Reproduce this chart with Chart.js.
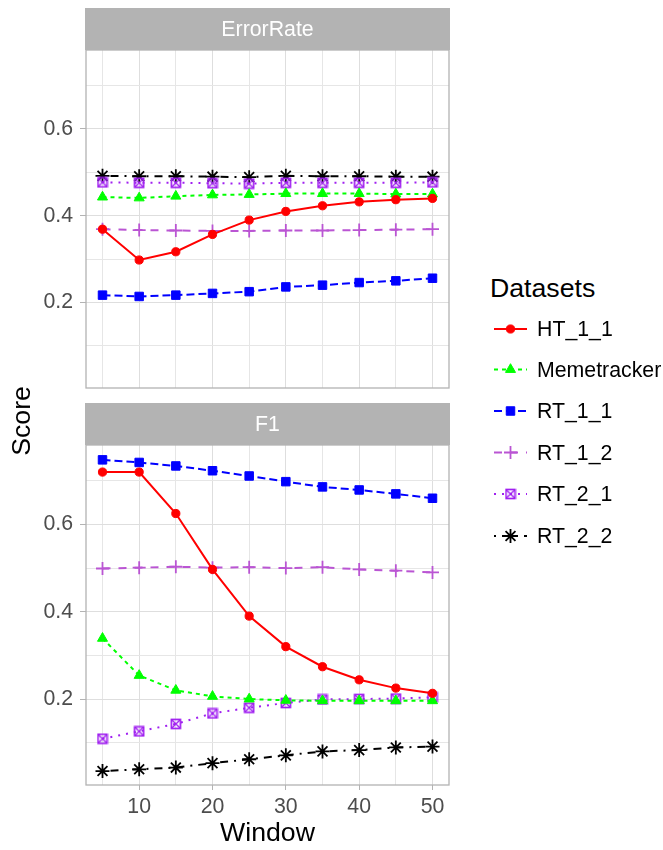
<!DOCTYPE html>
<html>
<head>
<meta charset="utf-8">
<title>ErrorRate / F1 by Window</title>
<script src="https://cdn.jsdelivr.net/npm/chart.js@4.4.1/dist/chart.umd.min.js"></script>
<style>
    body { margin: 0; background: #fff; font-family: "Liberation Sans", Arial, sans-serif; }
    #wrap { position: relative; width: 663px; height: 850px; overflow: hidden; }
    #wrap canvas { position: absolute; left: 0; }
    .yTitle {
        position: absolute; left: -29px; top: 406px; width: 100px; height: 30px;
        line-height: 30px; text-align: center; font-size: 26.7px; color: #000;
        transform: rotate(-90deg);
    }
    .legendTitle { position: absolute; left: 490px; top: 273px; line-height: 30px; font-size: 26.7px; color: #000; }
    .legendItem { position: absolute; left: 537px; line-height: 30px; font-size: 21.3px; color: #000; }
</style>
</head>
<body>
<div id="wrap">
    <canvas id="errorChart" width="456" height="382" style="top:8px"></canvas>
    <canvas id="f1Chart" width="456" height="447" style="top:403px"></canvas>
    <div class="yTitle">Score</div>
    <div class="legendTitle">Datasets</div>
    <canvas id="legendKeys" width="60" height="240" style="left:480px; top:310px"></canvas>
    <div id="legendLabels"></div>
</div>
<script>
// Data
const windows = [5, 10, 15, 20, 25, 30, 35, 40, 45, 50];
const seriesNames = ['HT_1_1', 'Memetracker', 'RT_1_1', 'RT_1_2', 'RT_2_1', 'RT_2_2'];

// ErrorRate panel
const errHT11 = [0.369, 0.298, 0.317, 0.357, 0.390, 0.410, 0.423, 0.432, 0.437, 0.440];
const errMeme = [0.443, 0.441, 0.445, 0.448, 0.449, 0.451, 0.451, 0.451, 0.450, 0.450];
const errRT11 = [0.217, 0.214, 0.217, 0.221, 0.225, 0.236, 0.240, 0.246, 0.250, 0.256];
const errRT12 = [0.369, 0.367, 0.366, 0.365, 0.365, 0.366, 0.366, 0.367, 0.368, 0.369];
const errRT21 = [0.477, 0.476, 0.476, 0.475, 0.474, 0.476, 0.476, 0.476, 0.476, 0.477];
const errRT22 = [0.492, 0.491, 0.491, 0.490, 0.489, 0.492, 0.491, 0.491, 0.490, 0.490];

// F1 panel
const f1HT11 = [0.720, 0.720, 0.625, 0.497, 0.390, 0.320, 0.274, 0.244, 0.225, 0.213];
const f1Meme = [0.339, 0.254, 0.220, 0.206, 0.200, 0.197, 0.196, 0.196, 0.196, 0.196];
const f1RT11 = [0.748, 0.742, 0.734, 0.723, 0.711, 0.698, 0.686, 0.679, 0.670, 0.660];
const f1RT12 = [0.499, 0.501, 0.503, 0.501, 0.502, 0.500, 0.502, 0.497, 0.494, 0.490];
const f1RT21 = [0.109, 0.126, 0.143, 0.167, 0.180, 0.191, 0.199, 0.200, 0.201, 0.204];
const f1RT22 = [0.035, 0.039, 0.043, 0.053, 0.062, 0.071, 0.080, 0.083, 0.089, 0.091];

// Axis ticks
const xTicks = [5, 10, 15, 20, 25, 30, 35, 40, 45, 50];
const xLabels = [10, 20, 30, 40, 50];
const yTicks = [0.1, 0.2, 0.3, 0.4, 0.5, 0.6, 0.7];
const yLabels = [0.2, 0.4, 0.6];

// Styles
const FONT = '"Liberation Sans", Arial, sans-serif';
const seriesColors = ['#FF0000', '#00FF00', '#0000FF', '#BA55D3', '#A020F0', '#000000'];
const seriesDashes = [[], [4, 4], [8, 4], [8, 8], [2, 6], [2, 6, 8, 6]];
const pointSizes = [4.1, 5.8, 6, 6.5, 5, 7];
const pointBorders = [1, 1, 1, 1.8, 1, 1.8];

// square with a cross inside (ggplot shape 7)
function boxCross(color) {
    const c = document.createElement('canvas');
    c.width = 12;
    c.height = 12;
    const g = c.getContext('2d');
    g.strokeStyle = color;
    g.lineWidth = 1.7;
    g.strokeRect(1.5, 1.5, 9, 9);
    g.lineWidth = 1.4;
    g.beginPath();
    g.moveTo(1.5, 1.5); g.lineTo(10.5, 10.5);
    g.moveTo(10.5, 1.5); g.lineTo(1.5, 10.5);
    g.stroke();
    return c;
}

const pointStyles = ['circle', 'triangle', 'rect', 'cross', boxCross('#A020F0'), 'star'];

function near(list, v) {
    return list.some(t => Math.abs(t - v) < 1e-6);
}

// grey strip on top of the panel + panel border
const panelPlugin = {
    id: 'panel',
    beforeDraw(chart, args, opts) {
        const { ctx, chartArea: a } = chart;
        ctx.save();
        ctx.fillStyle = '#B3B3B3';
        ctx.fillRect(a.left - 1, a.top - 42, a.right - a.left + 2, 42);
        ctx.fillStyle = '#FFFFFF';
        ctx.font = '21.3px ' + FONT;
        ctx.textAlign = 'center';
        ctx.textBaseline = 'middle';
        ctx.fillText(opts.text, (a.left + a.right) / 2, a.top - 20);
        ctx.restore();
    },
    afterDraw(chart) {
        const { ctx, chartArea: a } = chart;
        ctx.save();
        ctx.strokeStyle = '#B3B3B3';
        ctx.lineWidth = 1.3;
        ctx.strokeRect(a.left, a.top, a.right - a.left, a.bottom - a.top);
        ctx.restore();
    }
};

function buildDatasets(values) {
    return seriesNames.map((name, i) => ({
        label: name,
        data: windows.map((w, j) => ({ x: w, y: values[i][j] })),
        borderColor: seriesColors[i],
        backgroundColor: seriesColors[i],
        borderWidth: 2,
        borderDash: seriesDashes[i],
        pointStyle: pointStyles[i],
        pointRadius: pointSizes[i],
        pointBorderWidth: pointBorders[i],
        pointBackgroundColor: seriesColors[i],
        pointBorderColor: seriesColors[i],
        tension: 0,
        fill: false
    }));
}

function makePanel(id, title, values, showX) {
    return new Chart(document.getElementById(id), {
        type: 'line',
        data: { datasets: buildDatasets(values) },
        plugins: [panelPlugin],
        options: {
            responsive: false,
            animation: false,
            events: [],
            layout: { padding: { top: 42, right: 7, left: 0, bottom: 0 }, autoPadding: false },
            plugins: {
                legend: { display: false },
                tooltip: { enabled: false },
                panel: { text: title }
            },
            scales: {
                x: {
                    type: 'linear',
                    min: 2.75,
                    max: 52.25,
                    afterBuildTicks: s => { s.ticks = xTicks.map(v => ({ value: v })); },
                    afterFit: s => {
                        s.height = showX ? 65 : 2;
                        s.paddingLeft = 0;
                        s.paddingRight = 0;
                    },
                    border: { display: false },
                    grid: {
                        color: c => near(xLabels, c.tick.value) ? '#DEDEDE' : '#E6E6E6',
                        lineWidth: 1,
                        drawTicks: showX,
                        tickLength: 5,
                        tickColor: c => near(xLabels, c.tick.value) ? '#B3B3B3' : 'rgba(0,0,0,0)'
                    },
                    ticks: {
                        display: showX,
                        autoSkip: false,
                        maxRotation: 0,
                        padding: 4,
                        color: '#4D4D4D',
                        font: { family: FONT, size: 21.3 },
                        callback: v => near(xLabels, v) ? String(v) : ''
                    },
                    title: {
                        display: showX,
                        text: 'Window',
                        color: '#000000',
                        padding: { top: 0, bottom: 0 },
                        font: { family: FONT, size: 26.7 }
                    }
                },
                y: {
                    min: 0.003,
                    max: 0.782,
                    afterBuildTicks: s => { s.ticks = yTicks.map(v => ({ value: v })); },
                    afterFit: s => {
                        s.width = 86;
                        s.paddingTop = 0;
                        s.paddingBottom = 0;
                    },
                    border: { display: false },
                    grid: {
                        color: c => near(yLabels, c.tick.value) ? '#DEDEDE' : '#E6E6E6',
                        lineWidth: 1,
                        tickLength: 6,
                        tickColor: c => near(yLabels, c.tick.value) ? '#B3B3B3' : 'rgba(0,0,0,0)'
                    },
                    ticks: {
                        autoSkip: false,
                        padding: 7,
                        color: '#4D4D4D',
                        font: { family: FONT, size: 21.3 },
                        callback: v => near(yLabels, v) ? v.toFixed(1) : ''
                    }
                }
            }
        }
    });
}

makePanel('errorChart', 'ErrorRate', [errHT11, errMeme, errRT11, errRT12, errRT21, errRT22], false);
makePanel('f1Chart', 'F1', [f1HT11, f1Meme, f1RT11, f1RT12, f1RT21, f1RT22], true);

// Legend
const legendRows = [329, 369.5, 411, 452.5, 494, 536];

function drawKey(g, i, y) {
    const col = seriesColors[i];
    g.save();
    g.strokeStyle = col;
    g.fillStyle = col;
    g.lineWidth = 2;
    g.setLineDash(seriesDashes[i]);
    g.beginPath();
    g.moveTo(14, y);
    g.lineTo(47, y);
    g.stroke();
    g.setLineDash([]);
    const x = 30.5;
    const r = pointSizes[i];
    g.lineWidth = pointBorders[i];
    g.beginPath();
    if (i === 0) {
        g.arc(x, y, r, 0, Math.PI * 2);
        g.fill(); g.stroke();
    } else if (i === 1) {
        g.moveTo(x, y - r);
        g.lineTo(x + r * Math.sqrt(3) / 2, y + r / 2);
        g.lineTo(x - r * Math.sqrt(3) / 2, y + r / 2);
        g.closePath();
        g.fill(); g.stroke();
    } else if (i === 2) {
        const h = r * Math.SQRT1_2;
        g.rect(x - h, y - h, 2 * h, 2 * h);
        g.fill(); g.stroke();
    } else if (i === 3) {
        g.moveTo(x - r, y); g.lineTo(x + r, y);
        g.moveTo(x, y - r); g.lineTo(x, y + r);
        g.stroke();
    } else if (i === 4) {
        const img = pointStyles[4];
        g.drawImage(img, x - img.width / 2, y - img.height / 2);
    } else {
        const d = r * Math.SQRT1_2;
        g.moveTo(x - r, y); g.lineTo(x + r, y);
        g.moveTo(x, y - r); g.lineTo(x, y + r);
        g.moveTo(x - d, y - d); g.lineTo(x + d, y + d);
        g.moveTo(x + d, y - d); g.lineTo(x - d, y + d);
        g.stroke();
    }
    g.restore();
}

const keyCtx = document.getElementById('legendKeys').getContext('2d');
const labelBox = document.getElementById('legendLabels');
seriesNames.forEach((name, i) => {
    drawKey(keyCtx, i, legendRows[i] - 310);
    const el = document.createElement('div');
    el.className = 'legendItem';
    el.style.top = (legendRows[i] - 15) + 'px';
    el.textContent = name;
    labelBox.appendChild(el);
});
</script>
</body>
</html>
